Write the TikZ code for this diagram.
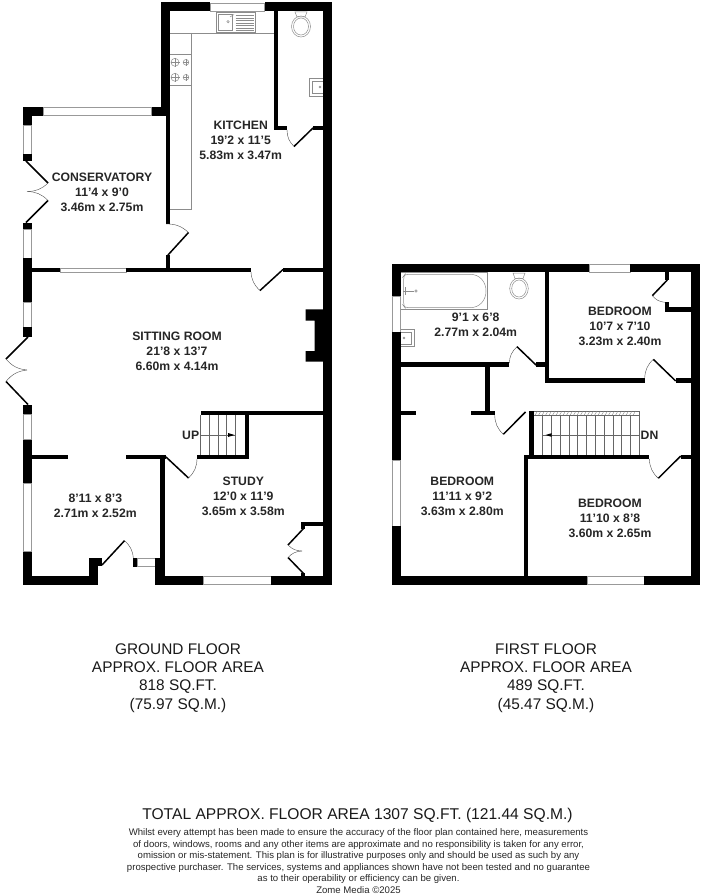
\documentclass[tikz,border=0pt]{standalone}
\usepackage{fontspec}
\setmainfont{Liberation Sans}
\definecolor{winline}{gray}{0.6}
\definecolor{fit}{gray}{0.55}
\tikzset{
  plan/.style={x=1pt,y=-1pt},
  wall/.style={fill=black,draw=none},
  win/.style={fill=white,draw=winline,line width=0.7pt},
  doorleaf/.style={draw=black,line width=1.5pt},
  swing/.style={draw=black!70,line width=0.4pt},
  unit/.style={draw=fit,line width=0.7pt},
  fixture/.style={draw=fit,line width=0.5pt},
  tread/.style={draw=black!60,line width=0.5pt},
  roomlabel/.style={align=center,font=\fontsize{12.2}{15}\selectfont\bfseries,text=black!85,inner sep=0pt,yshift=-0.3pt},
  floorlabel/.style={align=center,font=\fontsize{15.4}{18.4}\selectfont,text=black!90,inner sep=0pt},
}
\newcommand{\W}[4]{\fill[wall] (#1,#2) rectangle (#3,#4);}
\newcommand{\Win}[4]{\draw[win] (#1,#2) rectangle (#3,#4);}
\begin{document}
\begin{tikzpicture}[plan]
\useasboundingbox (0,0) rectangle (704,896);
% ---------- GROUND FLOOR ----------
% kitchen fittings
\draw[unit] (170,33) -- (274,33);
\draw[unit] (191.3,33) -- (191.3,209) -- (170,209);
\draw[unit] (170,54) -- (191.3,54) (170,85) -- (191.3,85);
\foreach \yy in {62.3,77.3}{
  \draw[fixture] (175,\yy) circle (4) (186,\yy) circle (2.8);
  \draw[fixture,line width=0.3pt] (170.5,\yy) -- (179.5,\yy) (175,\yy-4.5) -- (175,\yy+4.5)
     (182.7,\yy) -- (189.3,\yy) (186,\yy-3.3) -- (186,\yy+3.3);
}
% sink
\draw[fixture] (216.7,12) rectangle (255.7,32.3);
\draw[fixture] (218.3,14.3) rectangle (232.3,30);
\foreach \yy in {15.5,18,20.5,23,25.5,28,30}{\draw[fixture] (235.7,\yy) -- (254,\yy);}
\draw[fixture] (228,21.7) circle (1.2);
\draw[fixture] (230,17) -- (234,14.5);
% wc and basin
\draw[fixture] (295,12) -- (307,12) -- (305,17) -- (297,17) -- cycle;
\draw[fixture] (301,26.5) ellipse (9.5 and 10.5);
\draw[fixture] (301,26.5) ellipse (7.5 and 8.5);
\draw[fixture] (322.7,78.3) -- (309.3,78.3) -- (309.3,96) -- (322.7,96);
\draw[fixture] (322.7,81) -- (312,81) -- (312,93) -- (322.7,93);
\draw[fixture] (320,87) circle (1);
% walls
\W{161}{2.5}{210}{11}
\W{264.5}{2.5}{332}{11}
\Win{210}{3}{264.5}{11}
\W{161}{2.5}{170}{116}
\W{166}{116}{170}{224}
\W{166}{255}{170}{270}
\W{322.7}{2.5}{332}{585}
\W{274}{11}{278}{130}
\W{274}{126}{287}{130}
\W{313}{126}{323}{130}
% conservatory
\W{22.7}{106.7}{43.7}{115.7}
\W{151}{106.7}{166}{115.7}
\Win{43.7}{107}{151}{115.7}
\W{22.7}{106.7}{31.7}{125}
\Win{23}{125}{31.7}{154}
\W{22.7}{154}{31.7}{161}
\W{22.7}{223}{31.7}{229}
\Win{23}{229}{31.7}{258}
\W{22.7}{258}{31.7}{302.7}
\Win{23}{302.7}{31.7}{327.3}
\W{22.7}{327.3}{31.7}{337}
\W{22.7}{404.7}{31.7}{414.7}
\Win{23}{414.7}{31.7}{439.5}
\W{22.7}{439.5}{31.7}{483.7}
\Win{23}{483.7}{31.7}{551.7}
\W{22.7}{551.7}{31.7}{585}
% conservatory / sitting room wall
\W{31.7}{267.7}{60.7}{272.3}
\Win{60.7}{267.9}{126}{272.1}
\W{126}{267.7}{251}{272.3}
\W{283}{267.7}{323}{272.3}
% chimney breast
\fill[wall] (305.7,309.3) -- (323,309.3) -- (323,361.7) -- (305.7,361.7) -- (305.7,351) -- (314.7,351) -- (314.7,320.7) -- (305.7,320.7) -- cycle;
% stairs up
\foreach \xx in {209.3,218,226.7,235.7}{\draw[tread] (\xx,415) -- (\xx,455);}
\draw[tread] (200.7,415) -- (200.7,455);
\draw[tread] (200.7,435) -- (235.7,435);
\fill[black] (234.5,435) -- (228,433) -- (228,437) -- cycle;
\W{200.7}{411}{323}{415.3}
\W{244.7}{411}{249}{459.3}
\W{197}{454.9}{249}{459.3}
% hall walls
\W{31.7}{455}{67.7}{459.3}
\W{126}{455}{166}{459.3}
\W{160.3}{455}{165}{575.7}
% bottom walls
\W{22.7}{575.7}{98.3}{585}
\W{89.3}{557.7}{98.3}{585}
\W{89.3}{557.7}{102}{566}
\W{133.3}{557.7}{137.3}{566.5}
\Win{137.3}{558}{155}{566}
\W{155}{557.7}{165}{585}
\W{155}{575.7}{203.7}{585}
\Win{203.7}{576}{271}{584.7}
\W{271}{575.7}{332}{585}
% study cupboard
\W{300.7}{521.7}{323}{526}
\W{300.7}{521.7}{305}{529}
\W{300.5}{573}{305}{576}
% doors
\coordinate (kd1) at (313,128); \coordinate (kd2) at (294,146.5); \coordinate (kd3) at (287,130);
\draw[doorleaf] (kd1) -- (kd2); \draw[swing] (kd3) to[bend right=22] (kd2);
\coordinate (cd1) at (26,161); \coordinate (cd2) at (48,183); \coordinate (cd3) at (27,191.5);
\draw[doorleaf] (cd1) -- (cd2); \draw[swing] (cd2) to[bend left=22] (cd3);
\coordinate (cd4) at (26,222.5); \coordinate (cd5) at (48,200.5);
\draw[doorleaf] (cd4) -- (cd5); \draw[swing] (cd5) to[bend right=22] (cd3);
\coordinate (ck1) at (168,255); \coordinate (ck2) at (188.5,232.5); \coordinate (ck3) at (166,224);
\draw[doorleaf] (ck1) -- (ck2); \draw[swing] (ck3) to[bend left=22] (ck2);
\coordinate (sk1) at (283,269.5); \coordinate (sk2) at (260,290.5); \coordinate (sk3) at (251,272);
\draw[doorleaf] (sk1) -- (sk2); \draw[swing] (sk3) to[bend right=22] (sk2);
\coordinate (sd1) at (28,337); \coordinate (sd2) at (6,359); \coordinate (sd3) at (27,370);
\draw[doorleaf] (sd1) -- (sd2); \draw[swing] (sd2) to[bend right=22] (sd3);
\coordinate (sd4) at (28,404.5); \coordinate (sd5) at (6,381.5);
\draw[doorleaf] (sd4) -- (sd5); \draw[swing] (sd5) to[bend left=22] (sd3);
\coordinate (st1) at (166,457); \coordinate (st2) at (188.5,478); \coordinate (st3) at (197,459);
\draw[doorleaf] (st1) -- (st2); \draw[swing] (st3) to[bend left=22] (st2);
\coordinate (fd1) at (102,565); \coordinate (fd2) at (124.5,540.7); \coordinate (fd3) at (133.3,558);
\draw[doorleaf] (fd1) -- (fd2); \draw[swing] (fd2) to[bend left=22] (fd3);
\coordinate (cu1) at (304,528); \coordinate (cu2) at (288,545); \coordinate (cu3) at (302,551);
\draw[doorleaf] (cu1) -- (cu2); \draw[swing] (cu2) to[bend right=22] (cu3);
\coordinate (cu4) at (304,574); \coordinate (cu5) at (288,557.5);
\draw[doorleaf] (cu4) -- (cu5); \draw[swing] (cu5) to[bend left=22] (cu3);
% ---------- FIRST FLOOR ----------
% bath
\draw[fixture] (400.7,272.3) rectangle (487.3,309.3);
\draw[fixture,rounded corners=3pt] (470,274.3) -- (405,274.3) -- (403.7,276) -- (403.7,306) -- (405,307.7) -- (470,307.7);
\draw[fixture] (470,274.3) .. controls (480,274.3) and (486,282) .. (486,291) .. controls (486,300) and (480,307.7) .. (470,307.7);
\draw[fixture] (403,291) -- (414,291) (405,287) -- (405,295);
\draw[fixture] (416,291) circle (1.2);
% wc and basin
\draw[fixture] (513,273) -- (525,273) -- (523,278.5) -- (515,278.5) -- cycle;
\draw[fixture] (519,288.5) ellipse (9.3 and 10.5);
\draw[fixture] (519,288.5) ellipse (7.3 and 8.5);
\draw[fixture] (400.7,329.3) -- (414,329.3) -- (414,346.7) -- (400.7,346.7);
\draw[fixture] (400.7,332) -- (411.5,332) -- (411.5,344) -- (400.7,344);
\draw[fixture] (404,338) circle (1);
% walls
\W{391.7}{264}{589.3}{272.3}
\Win{589.3}{264.3}{630.3}{272.3}
\W{630.3}{264}{700}{272.3}
\W{391.7}{264}{400.7}{296.7}
\Win{392}{296.7}{400.7}{332.3}
\W{391.7}{332.3}{400.7}{460}
\Win{392}{460}{400.7}{526}
\W{391.7}{526}{400.7}{585}
\W{391.7}{575.7}{587.3}{585}
\Win{587.3}{576}{644}{584.7}
\W{644}{575.7}{700}{585}
\W{691.3}{264}{700}{585}
\W{544.7}{272}{549.3}{382.7}
\W{544.7}{378.3}{644.7}{382.7}
\W{675.7}{378.3}{691.5}{382.7}
\W{400.7}{362.3}{509.3}{366.7}
\W{536}{362.3}{545}{366.7}
\W{485}{366.7}{489.7}{412}
\W{470.7}{410.7}{494.7}{415.3}
\W{400.7}{410.7}{415.7}{415.3}
% stairs down
\foreach \xx in {542.3,551.3,560,569,577.7,586.3,595.3,604,613,621.7,630.7,639.3}{\draw[tread] (\xx,415) -- (\xx,455);}
\draw[tread] (542.7,435) -- (639.3,435);
\fill[black] (545.5,435) -- (551.5,433.2) -- (551.5,436.8) -- cycle;
\draw[black!60,line width=0.5pt] (533.7,411) rectangle (639.3,415.3);
\foreach \xx in {535,538.5,...,636}{\draw[black!50,line width=0.35pt] (\xx,415.3) -- (\xx+2.5,411);}
\W{529}{411}{533.7}{459}
\W{524}{455}{649.3}{459.3}
\W{524}{455}{528.3}{576}
\W{680.7}{455}{691.5}{459.3}
% bedroom cupboard
\W{665}{272}{669.3}{280}
\W{665}{302.3}{669.3}{312}
\W{665}{307.3}{691.5}{312}
% doors
\coordinate (bd1) at (536,365); \coordinate (bd2) at (517,346.7); \coordinate (bd3) at (509.3,363);
\draw[doorleaf] (bd1) -- (bd2); \draw[swing] (bd3) to[bend left=22] (bd2);
\coordinate (be1) at (675.7,381); \coordinate (be2) at (653.3,359.3); \coordinate (be3) at (644.7,378.3);
\draw[doorleaf] (be1) -- (be2); \draw[swing] (be3) to[bend left=22] (be2);
\coordinate (bf1) at (525.5,412); \coordinate (bf2) at (503.3,434.3); \coordinate (bf3) at (494.7,415);
\draw[doorleaf] (bf1) -- (bf2); \draw[swing] (bf3) to[bend right=22] (bf2);
\coordinate (bg1) at (680.7,456); \coordinate (bg2) at (658.3,478.3); \coordinate (bg3) at (649.3,459);
\draw[doorleaf] (bg1) -- (bg2); \draw[swing] (bg3) to[bend right=22] (bg2);
\coordinate (bh1) at (667.3,280); \coordinate (bh2) at (652.3,295.7); \coordinate (bh3) at (665,302.3);
\draw[doorleaf] (bh1) -- (bh2); \draw[swing] (bh2) to[bend right=22] (bh3);
% ---------- LABELS ----------
\node[roomlabel] (kitchen) at (240.7,140) {KITCHEN\\19'2 x 11'5\\5.83m x 3.47m};
\node[roomlabel] (conserv) at (102,192.5) {CONSERVATORY\\11'4 x 9'0\\3.46m x 2.75m};
\node[roomlabel] (sitting) at (177,351) {SITTING ROOM\\21'8 x 13'7\\6.60m x 4.14m};
\node[roomlabel] (hall) at (95.3,505) {8'11 x 8'3\\2.71m x 2.52m};
\node[roomlabel] (study) at (243.3,496) {STUDY\\12'0 x 11'9\\3.65m x 3.58m};
\node[roomlabel] (bath) at (475.7,324) {9'1 x 6'8\\2.77m x 2.04m};
\node[roomlabel] (bed1) at (620,325.7) {BEDROOM\\10'7 x 7'10\\3.23m x 2.40m};
\node[roomlabel] (bed2) at (462.3,496) {BEDROOM\\11'11 x 9'2\\3.63m x 2.80m};
\node[roomlabel] (bed3) at (610,518) {BEDROOM\\11'10 x 8'8\\3.60m x 2.65m};
\node[roomlabel] (up) at (190.7,435) {UP};
\node[roomlabel] (dn) at (649.5,435) {DN};
\node[floorlabel] (ground) at (178,678) {GROUND FLOOR\\APPROX. FLOOR AREA\\818 SQ.FT.\\(75.97 SQ.M.)};
\node[floorlabel] (first) at (546,678) {FIRST FLOOR\\APPROX. FLOOR AREA\\489 SQ.FT.\\(45.47 SQ.M.)};
\node[inner sep=0pt,text=black!90,font=\fontsize{15.6}{17}\selectfont] (total) at (357.5,815.5) {TOTAL APPROX. FLOOR AREA 1307 SQ.FT. (121.44 SQ.M.)};
\node[inner sep=0pt,align=center,text=black!85,font=\fontsize{9.6}{11.6}\selectfont] (disc) at (358.5,861) {Whilst every attempt has been made to ensure the accuracy of the floor plan contained here, measurements\\of doors, windows, rooms and any other items are approximate and no responsibility is taken for any error,\\omission or mis-statement. This plan is for illustrative purposes only and should be used as such by any\\prospective purchaser. The services, systems and appliances shown have not been tested and no guarantee\\as to their operability or efficiency can be given.\\Zome Media ©2025};
\end{tikzpicture}
\end{document}
